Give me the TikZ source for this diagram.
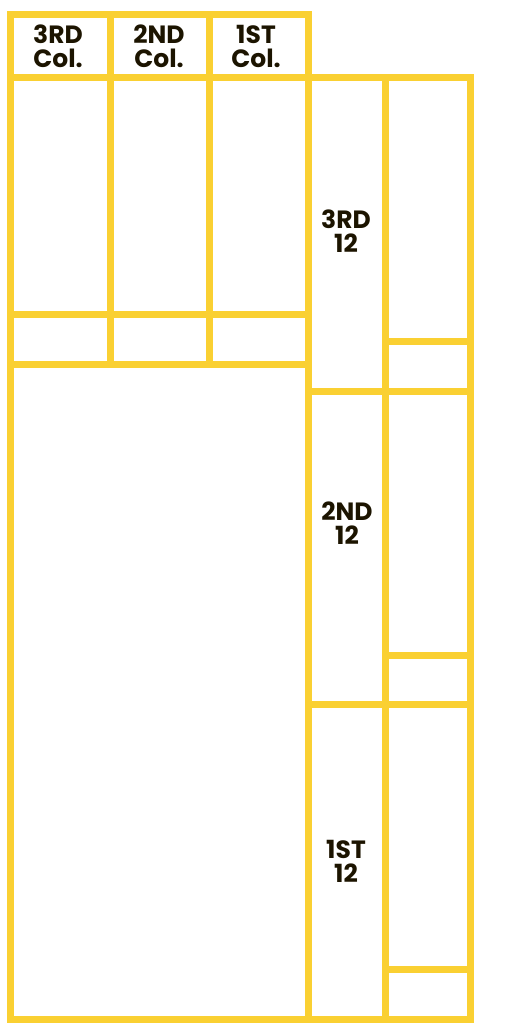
\documentclass[tikz,border=0pt]{standalone}
\usepackage{fontspec}
\setmainfont{Poppins}
\definecolor{frame}{RGB}{250,208,50}
\definecolor{ink}{RGB}{28,20,0}
\tikzset{
  cell/.style={draw=frame, line width=7pt, rectangle, inner sep=0pt, outer sep=0pt},
  tag/.style={text=ink, font=\fontsize{25}{24}\selectfont\bfseries, align=center, inner sep=0pt},
}
\begin{document}
\begin{tikzpicture}[x=1pt, y=-1pt]
\useasboundingbox (0,0) rectangle (512,1024);
% header row
\node[cell, minimum width=99.5pt, minimum height=63pt] (h3) at (60.25,46) {};
\node[cell, minimum width=99.5pt, minimum height=63pt] (h2) at (159.75,46) {};
\node[cell, minimum width=99pt, minimum height=63pt] (h1) at (259,46) {};
% columns
\node[cell, minimum width=99.5pt, minimum height=237pt] (c3) at (60.25,196) {};
\node[cell, minimum width=99.5pt, minimum height=237pt] (c2) at (159.75,196) {};
\node[cell, minimum width=99pt, minimum height=237pt] (c1) at (259,196) {};
\node[cell, minimum width=99.5pt, minimum height=50pt] (s3) at (60.25,339.5) {};
\node[cell, minimum width=99.5pt, minimum height=50pt] (s2) at (159.75,339.5) {};
\node[cell, minimum width=99pt, minimum height=50pt] (s1) at (259,339.5) {};
\node[cell, minimum width=298pt, minimum height=655pt] (base) at (159.5,692) {};
% rows of twelve
\node[cell, minimum width=77pt, minimum height=314pt] (r3) at (347,234.5) {};
\node[cell, minimum width=77pt, minimum height=313pt] (r2) at (347,548) {};
\node[cell, minimum width=77pt, minimum height=315pt] (r1) at (347,862) {};
\node[cell, minimum width=85pt, minimum height=264pt] (q3) at (428,209.5) {};
\node[cell, minimum width=85pt, minimum height=50pt] (p3) at (428,366.5) {};
\node[cell, minimum width=85pt, minimum height=264pt] (q2) at (428,523.5) {};
\node[cell, minimum width=85pt, minimum height=49pt] (p2) at (428,680) {};
\node[cell, minimum width=85pt, minimum height=265pt] (q1) at (428,837) {};
\node[cell, minimum width=85pt, minimum height=50pt] (p1) at (428,994.5) {};
% labels
\node[tag] (t3) at (58,46) {3RD\\Col.};
\node[tag] (t2) at (159,46) {2ND\\Col.};
\node[tag] (t1) at (256,46) {1ST\\Col.};
\node[tag] (u3) at (346,231) {3RD\\12};
\node[tag] (u2) at (347,523) {2ND\\12};
\node[tag] (u1) at (346,861) {1ST\\12};
\end{tikzpicture}
\end{document}
